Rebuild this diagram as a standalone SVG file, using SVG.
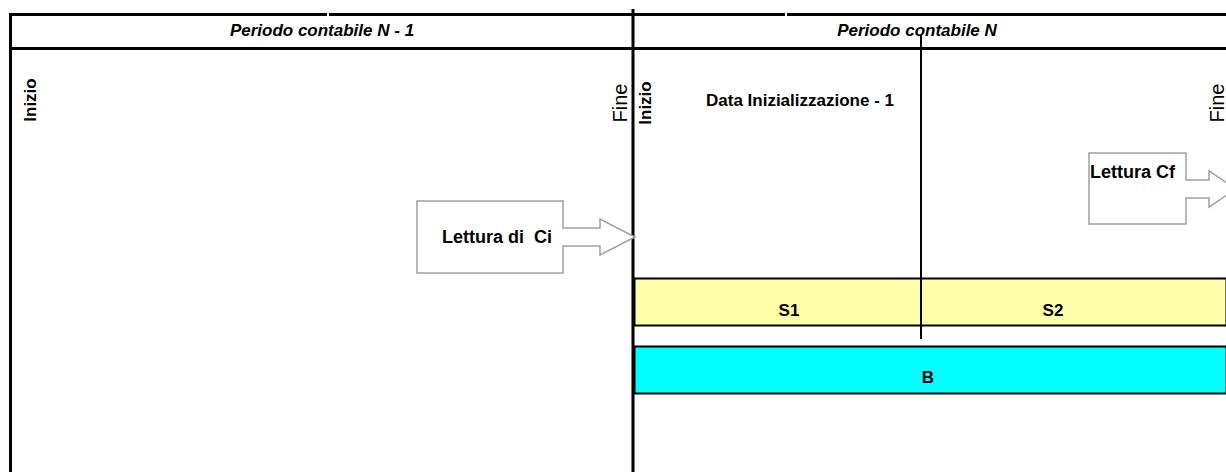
<svg xmlns="http://www.w3.org/2000/svg" width="1226" height="472" viewBox="0 0 1226 472">
<style>
.t{font-family:"Liberation Sans",Arial,sans-serif;fill:#000}
.b{font-weight:bold;font-size:17px}
.c{font-weight:bold;font-size:18px}
.h{font-weight:bold;font-style:italic;font-size:17px}
.f{font-size:20px}
.ln{stroke:#000;fill:none}
.co{fill:#fff;stroke:#a0a0a0;stroke-width:1.5}
</style>
<rect width="1226" height="472" fill="#fff"/>
<g id="frame">
<line class="ln" x1="9" y1="14.5" x2="327" y2="14.5" stroke-width="3"/>
<line class="ln" x1="329" y1="14.5" x2="785" y2="14.5" stroke-width="3"/>
<line class="ln" x1="787" y1="14.5" x2="1226" y2="14.5" stroke-width="3"/>
<line class="ln" x1="9" y1="48.5" x2="1226" y2="48.5" stroke-width="3"/>
<line class="ln" x1="10.5" y1="13" x2="10.5" y2="472" stroke-width="3"/>
<line class="ln" x1="633" y1="9" x2="633" y2="472" stroke-width="3"/>
</g>
<g id="header-n1"><text class="t h" x="322" y="36" text-anchor="middle">Periodo contabile N - 1</text></g>
<g id="header-n"><text class="t h" x="917" y="36" text-anchor="middle">Periodo contabile N</text></g>
<g id="band-s">
<rect x="634.5" y="278.5" width="592" height="47" fill="#ffffaa" stroke="#000" stroke-width="2"/>
<text class="t b" x="789" y="316" text-anchor="middle">S1</text>
<text class="t b" x="1053" y="316" text-anchor="middle">S2</text>
</g>
<g id="band-b">
<rect x="634.5" y="346.5" width="592" height="47" fill="#00ffff" stroke="#000" stroke-width="2"/>
<text class="t b" x="928" y="383" text-anchor="middle">B</text>
</g>
<g id="init-line"><line class="ln" x1="921" y1="35" x2="921" y2="339" stroke-width="2"/></g>
<g id="labels">
<text class="t b" transform="translate(36,100) rotate(-90)" text-anchor="middle">Inizio</text>
<text class="t f" transform="translate(627,103) rotate(-90)" text-anchor="middle">Fine</text>
<text class="t b" transform="translate(651,103) rotate(-90)" text-anchor="middle">Inizio</text>
<text class="t f" transform="translate(1224,103) rotate(-90)" text-anchor="middle">Fine</text>
<text class="t b" x="706" y="106">Data Inizializzazione - 1</text>
</g>
<g id="lettura-ci">
<path class="co" d="M417,201 H563 V228 H600 V219 L635,237 L600,255 V246 H563 V273 H417 Z"/>
<text class="t c" x="442" y="243" xml:space="preserve">Lettura di  Ci</text>
</g>
<g id="lettura-cf">
<path class="co" d="M1089,153 H1186 V180 H1209 V171 L1236,189 L1209,207 V198 H1186 V224 H1089 Z"/>
<text class="t c" x="1090" y="178">Lettura Cf</text>
</g>
</svg>
